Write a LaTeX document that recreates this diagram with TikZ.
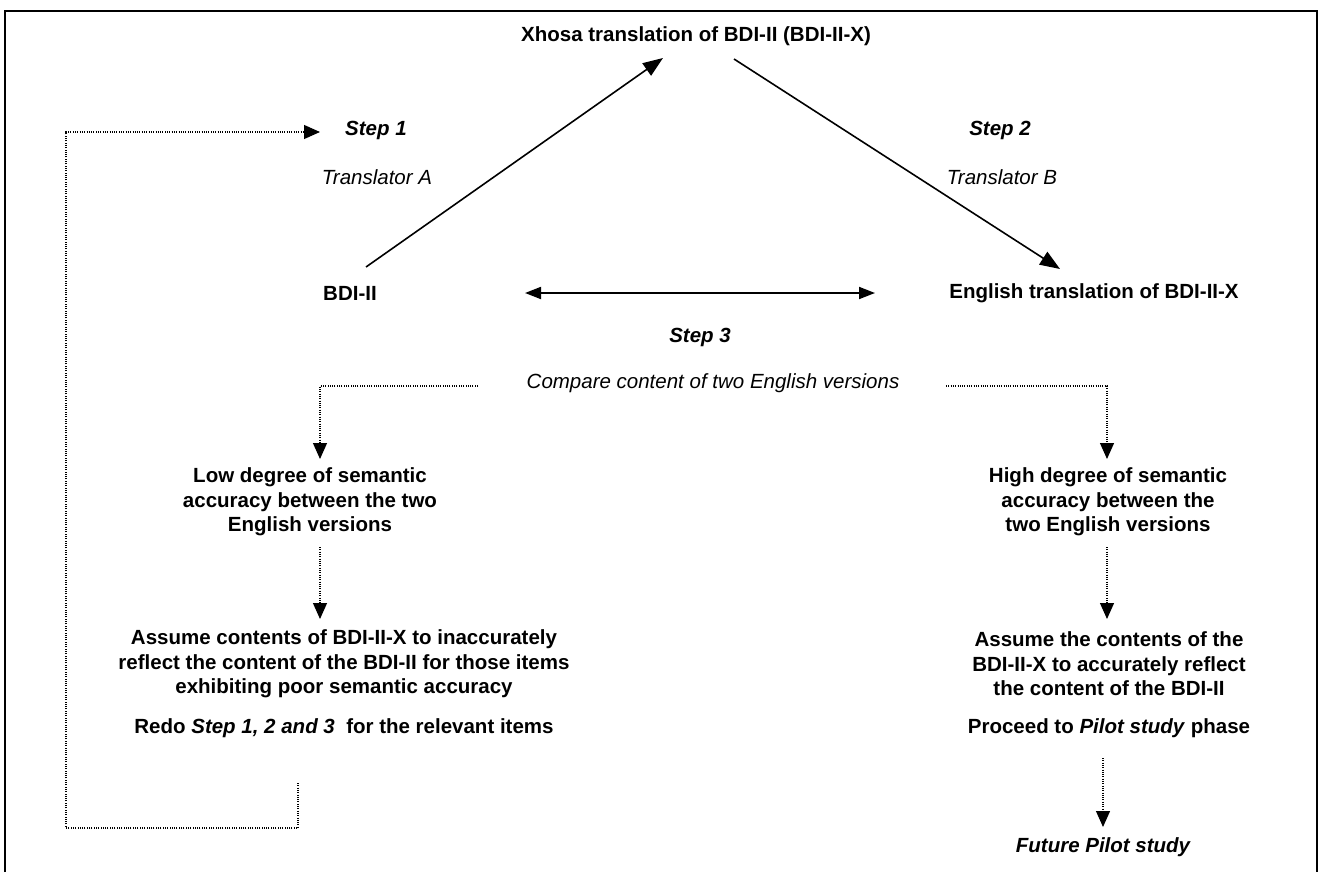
\documentclass[tikz,border=0pt]{standalone}
\usepackage{fontspec}
\setmainfont{Liberation Sans}
\usetikzlibrary{arrows.meta}
\tikzset{
  txt/.style={inner sep=0pt, align=center, font=\fontsize{20.5}{24.5}\selectfont\bfseries},
  itxt/.style={inner sep=0pt, align=center, font=\fontsize{20.5}{24.5}\selectfont\itshape},
  bitxt/.style={inner sep=0pt, align=center, font=\fontsize{20.5}{24.5}\selectfont\bfseries\itshape},
  solidarrow/.style={line width=1.6pt, -{Triangle[length=20pt,width=15pt]}},
  dblarrow/.style={line width=1.8pt, {Triangle[length=16pt,width=12pt]}-{Triangle[length=16pt,width=12pt]}},
  dotarrow/.style={line width=1.2pt, dash pattern=on 1pt off 1.3pt, -{Triangle[length=16pt,width=14pt]}},
  frame/.style={line width=1.8pt}
}
\begin{document}
\begin{tikzpicture}[x=1pt,y=-1pt]
\useasboundingbox (0,0) rectangle (1324,872);
% frame
\draw[frame] (5,872) -- (5,11) -- (1317,11) -- (1317,872);

% nodes
\node[txt] (xh) at (696,36) {Xhosa translation of BDI-II (BDI-II-X)};
\node[bitxt] (s1) at (376,130) {Step 1};
\node[itxt] (ta) at (377,177) {Translator A};
\node[bitxt] (s2) at (1000,130) {Step 2};
\node[itxt] (tb) at (1002,177) {Translator B};
\node[txt] (bdi) at (350,293) {BDI-II};
\node[txt] (eng) at (1094,293) {English translation of BDI-II-X};
\node[bitxt] (s3) at (700,337) {Step 3};
\node[itxt] (cmp) at (713,383) {Compare content of two English versions};
\node[txt] (low) at (310,502) {Low degree of semantic\\accuracy between the two\\English versions};
\node[txt] (high) at (1108,502) {High degree of semantic\\accuracy between the\\two English versions};
\node[txt] (asl) at (344,664) {Assume contents of BDI-II-X to inaccurately\\reflect the content of the BDI-II for those items\\exhibiting poor semantic accuracy};
\node[txt] (redo) at (344,728) {Redo \textit{Step 1, 2 and 3}\ \ for the relevant items};
\node[txt] (asr) at (1109,664) {Assume the contents of the\\BDI-II-X to accurately reflect\\the content of the BDI-II};
\node[txt] (proc) at (1109,728) {Proceed to \textit{Pilot study} phase};
\node[bitxt] (fut) at (1103,847) {Future Pilot study};

% connector end points
\coordinate (a1s) at (366,267);
\coordinate (a1e) at (663,58);
\coordinate (a2s) at (734,59);
\coordinate (a2e) at (1060,269);
\coordinate (dl) at (525,293);
\coordinate (dr) at (875,293);
\coordinate (cl) at (478,386);
\coordinate (clc) at (320,386);
\coordinate (lowt) at (320,459);
\coordinate (cr) at (946,386);
\coordinate (crc) at (1107,386);
\coordinate (hight) at (1107,459);
\coordinate (lowb) at (320,547);
\coordinate (aslt) at (320,619);
\coordinate (highb) at (1107,547);
\coordinate (asrt) at (1107,619);
\coordinate (procb) at (1103,758);
\coordinate (futt) at (1103,827);
\coordinate (l1) at (298,783);
\coordinate (l2) at (298,828);
\coordinate (l3) at (66,828);
\coordinate (l4) at (66,132);
\coordinate (l5) at (320,132);

% solid arrows
\draw[solidarrow] (a1s) -- (a1e);
\draw[solidarrow] (a2s) -- (a2e);
\draw[dblarrow] (dl) -- (dr);

% dotted arrows
\draw[dotarrow] (cl) -- (clc) -- (lowt);
\draw[dotarrow] (cr) -- (crc) -- (hight);
\draw[dotarrow] (lowb) -- (aslt);
\draw[dotarrow] (highb) -- (asrt);
\draw[dotarrow] (procb) -- (futt);
\draw[dotarrow] (l1) -- (l2) -- (l3) -- (l4) -- (l5);
\end{tikzpicture}
\end{document}
